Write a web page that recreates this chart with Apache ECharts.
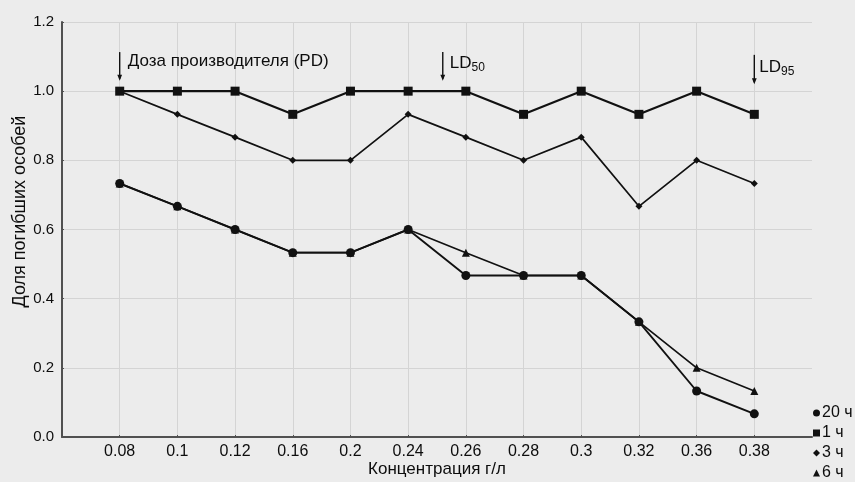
<!DOCTYPE html>
<html>
<head>
<meta charset="utf-8">
<script src="https://cdn.jsdelivr.net/npm/echarts@6/dist/echarts.min.js"></script>
<style>
html,body{margin:0;padding:0;background:#ececec;}
#main{width:855px;height:482px;}
</style>
</head>
<body>
<div id="main"></div>
<script>
const categories = ['0.08','0.1','0.12','0.16','0.2','0.24','0.26','0.28','0.3','0.32','0.36','0.38'];
const s20h = [0.733,0.667,0.6,0.533,0.533,0.6,0.467,0.467,0.467,0.333,0.133,0.067];
const s1h  = [1.0,1.0,1.0,0.933,1.0,1.0,1.0,0.933,1.0,0.933,1.0,0.933];
const s3h  = [1.0,0.933,0.867,0.8,0.8,0.933,0.867,0.8,0.867,0.667,0.8,0.733];
const s6h  = [0.733,0.667,0.6,0.533,0.533,0.6,0.533,0.467,0.467,0.333,0.2,0.133];
const seriesNames = ['20 ч','1 ч','3 ч','6 ч'];
const yTicks = [0,0.2,0.4,0.6,0.8,1.0,1.2];
const xTitle = 'Концентрация г/л';
const yTitle = 'Доля погибших особей';
const annPD = {pos:1, text:'Доза производителя (PD)'};
const annLD50 = {pos:6.6, main:'LD', sub:'50'};
const annLD95 = {pos:12, main:'LD', sub:'95'};

const FONT = '"Liberation Sans", Arial, Helvetica, sans-serif';
const TXT = '#0d0d0d';
const axisCats = [''].concat(categories, [' ']);
const pts = vals => vals.map((v,i)=>[i+1, v]);

const chart = echarts.init(document.getElementById('main'));
const lineCol = '#111111';
function mk(name, vals, symbol, size, width, z){
  return {
    name, type:'line', data:pts(vals), symbol, symbolSize:size, z,
    lineStyle:{color:lineCol, width}, itemStyle:{color:lineCol},
    animation:false, emphasis:{disabled:true}
  };
}
chart.setOption({
  backgroundColor:'#ececec',
  textStyle:{fontFamily:FONT},
  grid:{left:62, right:43, top:22, bottom:45, containLabel:false, outerBoundsMode:'none'},
  xAxis:{
    type:'category', data:axisCats, boundaryGap:false,
    axisLine:{lineStyle:{color:'#505050', width:2}},
    axisTick:{show:true, inside:true, length:2, interval:(i,v)=>v.trim()!=='', lineStyle:{color:'#505050'}},
    axisLabel:{color:TXT, fontSize:16, fontFamily:FONT, margin:7, interval:0},
    splitLine:{show:true, interval:(i,v)=>v.trim()!=='', lineStyle:{color:'#d4d4d4', width:1}},
    name:xTitle, nameLocation:'middle', nameGap:24, nameMoveOverlap:false,
    nameTextStyle:{color:TXT, fontSize:17, fontFamily:FONT}
  },
  yAxis:{
    type:'value', min:0, max:1.2, interval:0.2,
    axisLine:{show:true, lineStyle:{color:'#505050', width:2}},
    axisTick:{show:true, inside:true, length:2, lineStyle:{color:'#505050'}},
    axisLabel:{color:TXT, fontSize:15, fontFamily:FONT, margin:8,
      formatter:v=>{const t=yTicks.find(x=>Math.abs(x-v)<1e-9); return (t===undefined?v:t).toFixed(1);}},
    splitLine:{show:true, lineStyle:{color:'#d4d4d4', width:1}},
    name:yTitle, nameLocation:'middle', nameGap:33, nameMoveOverlap:false,
    nameTextStyle:{color:TXT, fontSize:18, fontFamily:FONT, padding:[0,0,0,36]}
  },
  legend:{
    orient:'vertical', left:813, top:405, padding:0, itemGap:4, itemWidth:7, itemHeight:7,
    textStyle:{color:TXT, fontSize:16, lineHeight:16, fontFamily:FONT, padding:[0,0,0,-3]},
    data:[
      {name:seriesNames[0], icon:'circle'},
      {name:seriesNames[1], icon:'rect'},
      {name:seriesNames[2], icon:'diamond'},
      {name:seriesNames[3], icon:'triangle'}
    ],
    selectedMode:false
  },
  series:[
    mk(seriesNames[1], s1h, 'rect', 9, 2.2, 4),
    mk(seriesNames[2], s3h, 'diamond', 7, 1.7, 3),
    mk(seriesNames[3], s6h, 'triangle', 8, 1.7, 2),
    mk(seriesNames[0], s20h, 'circle', 9, 1.9, 5)
  ],
  animation:false
});

function xAt(pos){
  const i0 = Math.floor(pos), f = pos - i0;
  const a = chart.convertToPixel({xAxisIndex:0}, i0);
  if (f === 0) return a;
  const b = chart.convertToPixel({xAxisIndex:0}, i0+1);
  return a + f*(b-a);
}
function arrow(x, y1, y2){
  return [
    {type:'line', shape:{x1:x, y1:y1, x2:x, y2:y2-2}, style:{stroke:'#111', lineWidth:1.4}, z:10},
    {type:'polygon', shape:{points:[[x-2.4,y2-6],[x+2.4,y2-6],[x,y2]]}, style:{fill:'#111'}, z:10}
  ];
}
const yPix = v => chart.convertToPixel({yAxisIndex:0}, v);
const xPD = xAt(annPD.pos), x50 = xAt(annLD50.pos), x95 = xAt(annLD95.pos);
const g = [];
g.push(...arrow(xPD, yPix(1.113), yPix(1.03)));
g.push(...arrow(x50, yPix(1.113), yPix(1.03)));
g.push(...arrow(x95, yPix(1.105), yPix(1.02)));
g.push({type:'text', x:xPD+8, y:yPix(1.085), z:10,
  style:{text:annPD.text, fill:TXT, font:'17px '+FONT, verticalAlign:'middle'}});
const richSub = {
  a:{fontSize:17, fontFamily:FONT, fill:TXT, color:TXT},
  b:{fontSize:12, fontFamily:FONT, fill:TXT, color:TXT, padding:[9,0,0,0]}
};
g.push({type:'text', x:x50+7, y:yPix(1.08), z:10,
  style:{text:'{a|'+annLD50.main+'}{b|'+annLD50.sub+'}', rich:richSub, verticalAlign:'middle'}});
g.push({type:'text', x:x95+5, y:yPix(1.07), z:10,
  style:{text:'{a|'+annLD95.main+'}{b|'+annLD95.sub+'}', rich:richSub, verticalAlign:'middle'}});
chart.setOption({graphic:{elements:g}});
</script>
</body>
</html>
